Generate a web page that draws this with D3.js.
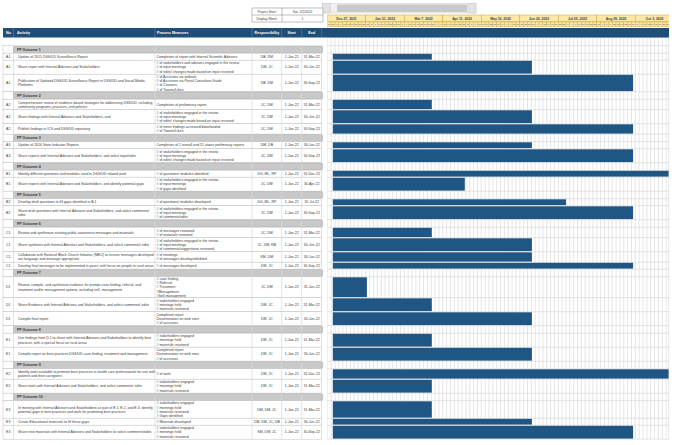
<!DOCTYPE html>
<html><head><meta charset="utf-8">
<script src="https://cdn.jsdelivr.net/npm/d3@7"></script>
<style>body{margin:0;background:#fff}svg{display:block;font-family:"Liberation Sans",Arial,sans-serif}</style>
</head><body><svg id="c" width="680" height="445"></svg>
<script>
// ---------------- data ----------------
const projectStartLabel = "Sat, 1/1/2022";
const displayWeek = "1";
const timelineStart = "2021-12-27";
const blockCount = 9;
const blockDays = 35;
const subColumnsPerBlock = 10;
const columnHeaders = ["No.", "Activity", "Process Measures", "Responsibility", "Start", "End"];
const groupNames = ["PP Outcome 1","PP Outcome 2","PP Outcome 3","PP Outcome 4","PP Outcome 5",
  "PP Outcome 6","PP Outcome 7","PP Outcome 8","PP Outcome 9","PP Outcome 10"];
const taskGroup = [0,0,0,1,1,1,2,2,3,3,4,4,5,5,5,5,6,6,6,7,7,8,8,9,9,9];
const taskNo = ["A1","A1","A1","A2","A2","A2","A3","A3","B1","B1","B2","B2","C1","C1","C1","C1",
  "D1","D1","D1","E1","E1","E2","E2","E3","E3","E3"];
const taskActivity = [
  "Update of 2015 DSS/UD Surveillance Report",
  "Share report with Internal Advisors and Stakeholders",
  "Publication of Updated DSS/UD Surveillance Report in DSS/UD and Social Media\nPlatforms",
  "Comprehensive review of evidence-based strategies for addressing DSS/UD, including\ncommunity programs, practices, and policies",
  "Share findings with Internal Advisors and Stakeholders, and",
  "Publish findings in ICS and DSS/UD repository",
  "Update of 2016 State Indicator Reports",
  "Share reports with Internal Advisors and Stakeholders, and solicit input/edits",
  "Identify different questions and modules used in DSS/UD related work",
  "Share reports with Internal Advisors and Stakeholders, and identify potential gaps",
  "Develop draft questions to fill gaps identified in B.1",
  "Share draft questions with Internal Advisors and Stakeholders, and solicit comments/\nedits",
  "Review and synthesize existing public awareness messages and materials",
  "Share synthesis with Internal Advisors and Stakeholders, and solicit comments/ edits",
  "Collaborate with National Black Church Initiative (NBCI) to ensure messages developed\nare language and message appropriate",
  "Develop final messages to be implemented in years, with focus on people in rural areas",
  "Review, compile, and synthesize evidence for prompt case-finding, referral, and\ntreatment and/or management options, including self- management",
  "Share Evidence with Internal Advisors and Stakeholders, and solicit comments/ edits",
  "Compile final report",
  "Use findings from D.1 to share with Internal Advisors and Stakeholders to identify best\npractices, with a special focus on rural areas",
  "Compile report on best practices DSS/UD case-finding, treatment and management",
  "Identify tools available to promote best practices in health care professionals for use with\npatients and their caregivers",
  "Share tools with Internal Advisors and Stakeholders, and solicit comments/ edits",
  "In meeting with Internal Advisors and Stakeholders as part of E.1, E.2, and E.3, identify\npotential gaps in best practices and tools for promoting best practices",
  "Create Educational materials to fill these gaps",
  "Share new materials with Internal Advisors and Stakeholders to solicit comments/edits"
];
const taskMeasures = [
  "Completion of report with Internal Scientific Advisors",
  "# of stakeholders and advisors engaged in the review\n# of input meetings\n# of edits/ changes made based on input received",
  "# of Accesses via website\n# of Accesses via Portal Consultant Guide\n# of Citations\n# of Tweets/Likes",
  "Completion of preliminary report",
  "# of stakeholders engaged in the review\n# of input meetings\n# of edits/ changes made based on input received",
  "# of times findings accessed/downloaded\n# of Tweets/Likes",
  "Completion of 1 overall and 51 states preliminary reports",
  "# of stakeholders engaged in the review\n# of input meetings\n# of edits/ changes made based on input received",
  "# of questions/ modules identified",
  "# of stakeholders engaged in the review\n# of input meetings\n# of gaps identified",
  "# of questions/ modules developed",
  "# of stakeholders engaged in the review\n# of input meetings\n# of comments/edits",
  "# of messages reviewed\n# of materials reviewed",
  "# of stakeholders engaged in the review\n# of input meetings\n# of comments/suggestions reviewed",
  "# of meetings\n# of messages developed/edited",
  "# of messages developed",
  "# case finding\n# Referral\n# Treatment\n#Management\n#Self-management",
  "# stakeholders engaged\n# meetings held\n# materials reviewed",
  "Completed report\nDissemination on web sites\n# of accesses",
  "# stakeholders engaged\n# meetings held\n# materials reviewed",
  "Completed report\nDissemination on web sites\n# of accesses",
  "# of tools",
  "# stakeholders engaged\n# meetings held\n# materials reviewed",
  "# stakeholders engaged\n# meetings held\n# materials reviewed\n# Gaps identified",
  "# Materials developed",
  "# stakeholders engaged\n# meetings held\n# materials reviewed"
];
const taskResp = ["DB, DM","DM, JC","DB, DM","JC, DM","JC, DM","JC, DM","DM, DB","JC, DM","DG, ML, RP","JC, DM",
  "DG, ML, RP","JC, DM","JC, DM","JC, DM, KM","KM, DM","DM, JC","JC, DM","DM, JC","DM, JC","DM, JC","DM, JC",
  "DM, JC","DM, JC","DM, DM, JC","DM, DM, JC, DB","KM, DM, JC"];
const taskStart = Array(26).fill("2022-01-01");
const taskEnd = ["2022-03-31","2022-06-30","2022-09-30","2022-03-31","2022-06-30","2022-09-30","2022-06-30",
  "2022-09-30","2022-12-31","2022-04-30","2022-07-31","2022-09-30","2022-03-31","2022-06-30","2022-06-30",
  "2022-09-30","2022-01-31","2022-03-31","2022-06-30","2022-03-31","2022-06-30","2022-12-31","2022-03-31",
  "2022-03-31","2022-06-30","2022-09-30"];

// ---------------- layout ----------------
const W = 680, H = 445;
const colEdges = [3, 13.5, 155, 252, 281.7, 301.7, 321.7];
const tlLeft = 327.3, tlRight = 669;
const headTop = 28, headBottom = 37.5, bodyTop = 45.7, groupH = 7.5;
const pxPerDay = 1.1;
const navy = "#1f4e79", barColor = "#1f5684", gridColor = "#d3d3d3", textColor = "#3a3a3a";
const fs = 3.5;

const parse = d3.timeParse("%Y-%m-%d");
const fmtCell = d3.timeFormat("%-d-%b-%y");
const fmtBlock = d3.timeFormat("%b %-d, %Y");
const t0 = parse(timelineStart);
const tEnd = d3.timeDay.offset(t0, blockCount * blockDays);
const x = d3.scaleTime().domain([t0, tEnd]).range([tlLeft, tlLeft + blockCount * blockDays * pxPerDay]);

const svg = d3.select("#c");
svg.append("defs").append("clipPath").attr("id", "tl")
  .append("rect").attr("x", tlLeft).attr("y", 0).attr("width", tlRight - tlLeft).attr("height", H);

// rows
const rows = [];
let yy = bodyTop;
groupNames.forEach((g, gi) => {
  rows.push({type: "group", label: g, y: yy, h: groupH}); yy += groupH;
  taskGroup.forEach((tg, i) => {
    if (tg !== gi) return;
    const n = Math.max(taskMeasures[i].split("\n").length, taskActivity[i].split("\n").length);
    const h = 3.5 + 3.5 * n;
    rows.push({type: "task", i, y: yy, h}); yy += h;
  });
});
const bodyBottom = yy;

function multiText(g, text, tx, yc, anchor, opts = {}) {
  const lines = text.split("\n");
  const lh = 4.3;
  const t = g.append("text").attr("x", tx).attr("text-anchor", anchor)
    .attr("font-size", opts.size || fs).attr("fill", opts.fill || textColor)
    .attr("font-weight", opts.weight || "normal");
  lines.forEach((l, k) => {
    t.append("tspan").attr("x", tx).attr("y", yc - (lines.length - 1) * lh / 2 + k * lh).attr("dy", "0.35em").text(l);
  });
  return t;
}

// ---- scrollbar & project box ----
svg.append("rect").attr("x", 322.5).attr("y", 3.5).attr("width", 153.5).attr("height", 9.5)
  .attr("fill", "#f1f1f1").attr("stroke", "#d0d0d0").attr("stroke-width", 0.5);
svg.append("rect").attr("x", 322.5).attr("y", 3.5).attr("width", 8).attr("height", 9.5)
  .attr("fill", "#e2e2e2").attr("stroke", "#c4c4c4").attr("stroke-width", 0.5);
svg.append("rect").attr("x", 468).attr("y", 3.5).attr("width", 8).attr("height", 9.5)
  .attr("fill", "#e2e2e2").attr("stroke", "#c4c4c4").attr("stroke-width", 0.5);
svg.append("rect").attr("x", 337).attr("y", 4.5).attr("width", 130).attr("height", 7.5)
  .attr("fill", "#c9c9c9");

const pb = svg.append("g");
pb.append("rect").attr("x", 252).attr("y", 8).attr("width", 71).attr("height", 14)
  .attr("fill", "#fff").attr("stroke", "#7f7f7f").attr("stroke-width", 0.5);
pb.append("line").attr("x1", 282).attr("x2", 282).attr("y1", 8).attr("y2", 22).attr("stroke", "#7f7f7f").attr("stroke-width", 0.5);
pb.append("line").attr("x1", 252).attr("x2", 323).attr("y1", 15).attr("y2", 15).attr("stroke", "#7f7f7f").attr("stroke-width", 0.5);
multiText(pb, "Project Start:", 267, 11.5, "middle", {size: 3.3});
multiText(pb, "Display Week:", 267, 18.5, "middle", {size: 3.3});
multiText(pb, projectStartLabel, 302.5, 11.5, "middle", {size: 3.3});
multiText(pb, displayWeek, 302.5, 18.5, "middle", {size: 3.3});

// ---- timeline header ----
const tlg = svg.append("g").attr("clip-path", "url(#tl)");
const blocks = d3.range(blockCount).map(k => d3.timeDay.offset(t0, k * blockDays));
const subDates = d3.range(blockCount * subColumnsPerBlock)
  .map(k => new Date(+t0 + k * blockDays / subColumnsPerBlock * 864e5));
const subW = (x(tEnd) - tlLeft) / subDates.length;

tlg.selectAll(".blk").data(blocks).join("rect")
  .attr("x", d => x(d)).attr("y", 15).attr("width", d => x(d3.timeDay.offset(d, blockDays)) - x(d)).attr("height", 6.7)
  .attr("fill", "#fde9a5").attr("stroke", "#c9a53c").attr("stroke-width", 0.5);
tlg.selectAll(".blkt").data(blocks).join("text")
  .attr("x", d => (x(d) + x(d3.timeDay.offset(d, blockDays))) / 2).attr("y", 18.4).attr("dy", "0.35em")
  .attr("text-anchor", "middle").attr("font-size", 3.4).attr("font-weight", "bold").attr("fill", "#404040")
  .text(d => fmtBlock(d));
tlg.selectAll(".sub").data(subDates).join("rect")
  .attr("x", d => x(d)).attr("y", 22).attr("width", subW).attr("height", 4.8)
  .attr("fill", "#fdeaa8").attr("stroke", "#c9a53c").attr("stroke-width", 0.4);
tlg.selectAll(".subt").data(subDates).join("text")
  .attr("x", d => x(d) + subW / 2).attr("y", 24.4).attr("dy", "0.35em")
  .attr("text-anchor", "middle").attr("font-size", 2.4).attr("fill", "#555")
  .text(d => d3.timeFormat("%-d")(d));

// ---- dark header band ----
svg.append("rect").attr("x", 3).attr("y", headTop).attr("width", tlRight - 3).attr("height", headBottom - headTop)
  .attr("fill", navy);
colEdges.slice(1).forEach(e => svg.append("line").attr("x1", e).attr("x2", e).attr("y1", headTop).attr("y2", headBottom)
  .attr("stroke", "#ffffff").attr("stroke-opacity", 0.35).attr("stroke-width", 0.5));
const hdrPos = [[6, "start"], [17, "start"], [157, "start"], [(colEdges[3] + colEdges[4]) / 2, "middle"],
  [(colEdges[4] + colEdges[5]) / 2, "middle"], [(colEdges[5] + colEdges[6]) / 2, "middle"]];
columnHeaders.forEach((h, k) => multiText(svg, h, hdrPos[k][0], (headTop + headBottom) / 2, hdrPos[k][1],
  {size: 3.6, fill: "#fff", weight: "bold"}));
tlg.selectAll(".dl").data(subDates).join("text")
  .attr("x", d => x(d) + subW / 2).attr("y", (headTop + headBottom) / 2).attr("dy", "0.35em")
  .attr("text-anchor", "middle").attr("font-size", 2.8).attr("font-weight", "bold").attr("fill", "#fff")
  .text(d => d3.timeFormat("%a")(d)[0]);

// ---- timeline grid ----
tlg.selectAll(".vg").data(subDates.concat([tEnd])).join("line")
  .attr("x1", d => x(d)).attr("x2", d => x(d)).attr("y1", headBottom).attr("y2", bodyBottom)
  .attr("stroke", gridColor).attr("stroke-width", 0.6);
svg.append("line").attr("x1", tlRight - 0.3).attr("x2", tlRight - 0.3).attr("y1", headBottom).attr("y2", bodyBottom)
  .attr("stroke", gridColor).attr("stroke-width", 0.6);
const hLines = [headBottom, bodyTop].concat(rows.map(r => r.y + r.h));
tlg.selectAll(".hg").data(hLines).join("line")
  .attr("x1", tlLeft).attr("x2", tlRight).attr("y1", d => d).attr("y2", d => d)
  .attr("stroke", gridColor).attr("stroke-width", 0.6);

// ---- table body ----
const tb = svg.append("g");
rows.forEach(r => {
  if (r.type === "group") {
    tb.append("rect").attr("x", colEdges[0]).attr("y", r.y).attr("width", colEdges[1] - colEdges[0]).attr("height", r.h)
      .attr("fill", "#fff").attr("stroke", "#bfbfbf").attr("stroke-width", 0.5);
    tb.append("rect").attr("x", colEdges[1]).attr("y", r.y + 0.2).attr("width", colEdges[6] - colEdges[1] + 1).attr("height", r.h - 0.4)
      .attr("rx", 1.5).attr("fill", "#c8c8c8").attr("stroke", "#a8a8a8").attr("stroke-width", 0.5);
    colEdges.slice(2, 6).forEach(e => tb.append("line").attr("x1", e).attr("x2", e).attr("y1", r.y).attr("y2", r.y + r.h)
      .attr("stroke", "#e4e4e4").attr("stroke-width", 0.5));
    multiText(tb, r.label, 17, r.y + r.h / 2, "start", {size: 3.5, fill: "#333", weight: "bold"});
  } else {
    const i = r.i;
    tb.append("rect").attr("x", colEdges[0]).attr("y", r.y).attr("width", colEdges[6] - colEdges[0]).attr("height", r.h)
      .attr("fill", "#fff").attr("stroke", "#bfbfbf").attr("stroke-width", 0.5);
    colEdges.slice(1, 6).forEach(e => tb.append("line").attr("x1", e).attr("x2", e).attr("y1", r.y).attr("y2", r.y + r.h)
      .attr("stroke", "#c8c8c8").attr("stroke-width", 0.5));
    const yc = r.y + r.h / 2;
    multiText(tb, taskNo[i], (colEdges[0] + colEdges[1]) / 2, yc, "middle");
    multiText(tb, taskActivity[i], 18, yc, "start");
    multiText(tb, taskMeasures[i], 156.5, yc, "start");
    multiText(tb, taskResp[i], (colEdges[3] + colEdges[4]) / 2, yc, "middle");
    multiText(tb, fmtCell(parse(taskStart[i])), (colEdges[4] + colEdges[5]) / 2, yc, "middle");
    multiText(tb, fmtCell(parse(taskEnd[i])), (colEdges[5] + colEdges[6]) / 2, yc, "middle");
  }
});

// ---- bars ----
const taskRows = rows.filter(r => r.type === "task");
tlg.selectAll(".bar").data(taskRows).join("rect")
  .attr("x", r => x(parse(taskStart[r.i])))
  .attr("y", r => r.y + 0.6)
  .attr("width", r => x(d3.timeDay.offset(parse(taskEnd[r.i]), 1)) - x(parse(taskStart[r.i])))
  .attr("height", r => r.h - 1.2)
  .attr("fill", barColor);
</script></body></html>
